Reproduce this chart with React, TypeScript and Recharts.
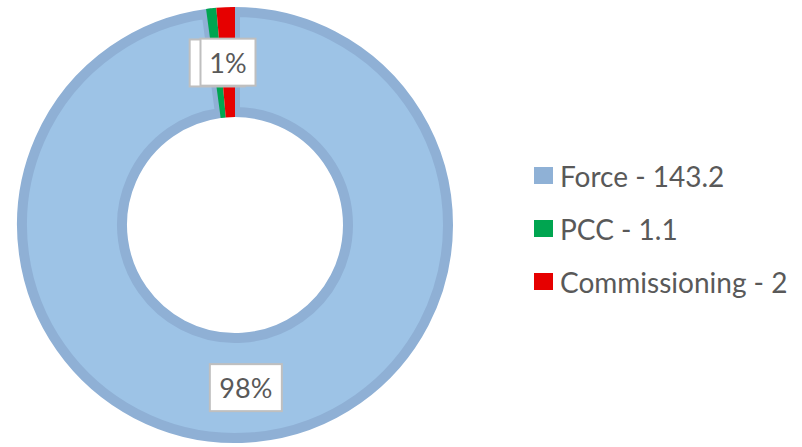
import { PieChart, Pie, Cell, Legend } from "recharts";

const categories = ["Force", "PCC", "Commissioning"];
const values = [143.2, 1.1, 2];
const fills = ["#9DC3E6", "#00A550", "#E60000"];
const legendColors = ["#8FB1D6", "#00A550", "#E60000"];
const borderColor = "#8FB0D5";

const data = categories.map((name, i) => ({ name, value: values[i] }));

const RAD = Math.PI / 180;
const FONT = "Lato, 'Noto Sans', sans-serif";

// boxed percentage label at the middle of the ring
const renderLabel = (props: any) => {
    const { cx, cy, midAngle, innerRadius, outerRadius, percent } = props;
    const r = (innerRadius + outerRadius) / 2;
    const x = cx + r * Math.cos(-midAngle * RAD);
    const y = cy + r * Math.sin(-midAngle * RAD);
    const text = `${Math.round(percent * 100)}%`;
    const w = text.length * 17 + 21;
    const h = 47;
    return (
        <g>
            <rect x={x - w / 2} y={y - h / 2} width={w} height={h} fill="#fff" stroke="#BFBFBF" strokeWidth={2} />
            <text x={x} y={y} textAnchor="middle" dominantBaseline="central" fill="#595959" fontSize={27} fontFamily={FONT}>
                {text}
            </text>
        </g>
    );
};

const CustomLegend = () => (
    <div style={{ fontFamily: FONT, fontSize: 28, color: "#595959" }}>
        {categories.map((name, i) => (
            <div key={name} style={{ display: "flex", alignItems: "center", height: 53 }}>
                <span style={{ display: "inline-block", width: 19, height: 17, background: legendColors[i], marginRight: 7 }} />
                <span>{`${name} - ${values[i]}`}</span>
            </div>
        ))}
    </div>
);

export default function App() {
    return (
        <div style={{ position: "absolute", left: 0, top: 0, width: 802, height: 447, background: "#fff" }}>
            <PieChart width={802} height={447} margin={{ top: 0, right: 0, bottom: 0, left: 0 }}>
                {/* Force slice with its darker border kept inside the ring */}
                <Pie
                    data={data}
                    dataKey="value"
                    nameKey="name"
                    cx={235}
                    cy={225}
                    innerRadius={113}
                    outerRadius={213}
                    startAngle={90}
                    endAngle={-270}
                    isAnimationActive={false}
                    label={false}
                    labelLine={false}
                >
                    {data.map((d, i) => (
                        <Cell
                            key={d.name}
                            fill={i === 0 ? fills[0] : "transparent"}
                            stroke={i === 0 ? borderColor : "none"}
                            strokeWidth={i === 0 ? 10 : 0}
                        />
                    ))}
                </Pie>
                {/* small slices on top, full ring width */}
                <Pie
                    data={data}
                    dataKey="value"
                    nameKey="name"
                    cx={235}
                    cy={225}
                    innerRadius={108}
                    outerRadius={218}
                    startAngle={90}
                    endAngle={-270}
                    isAnimationActive={false}
                    label={renderLabel}
                    labelLine={false}
                >
                    {data.map((d, i) => (
                        <Cell key={d.name} fill={i === 0 ? "transparent" : fills[i]} stroke="none" />
                    ))}
                </Pie>
                <Legend
                    layout="vertical"
                    align="right"
                    verticalAlign="middle"
                    content={<CustomLegend />}
                    wrapperStyle={{ left: 534, top: 149, width: 268 }}
                />
            </PieChart>
        </div>
    );
}
